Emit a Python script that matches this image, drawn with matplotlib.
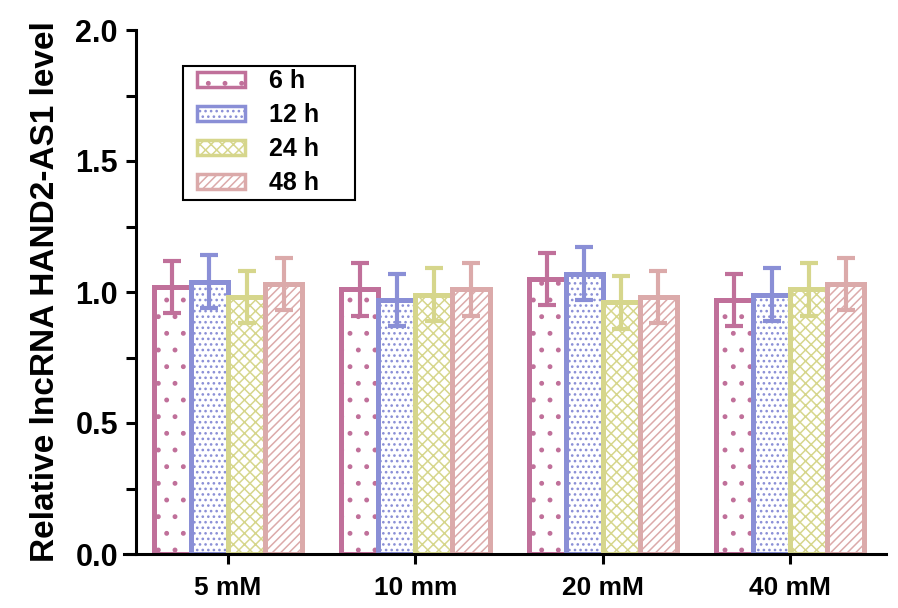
import numpy as np
import matplotlib.pyplot as plt
from matplotlib.patches import Patch, Rectangle

plt.rcParams['font.family'] = ['Liberation Sans', 'DejaVu Sans']
plt.rcParams['font.weight'] = 'bold'
plt.rcParams['hatch.linewidth'] = 1.1

# data
groups = ['5 mM', '10 mm', '20 mM', '40 mM']
series = ['6 h', '12 h', '24 h', '48 h']
means = [
    [1.02, 1.01, 1.05, 0.97],   # 6 h
    [1.04, 0.97, 1.07, 0.99],   # 12 h
    [0.98, 0.99, 0.96, 1.01],   # 24 h
    [1.03, 1.01, 0.98, 1.03],   # 48 h
]
errs = [
    [0.10, 0.10, 0.10, 0.10],
    [0.10, 0.10, 0.10, 0.10],
    [0.10, 0.10, 0.10, 0.10],
    [0.10, 0.10, 0.10, 0.10],
]

colors = ['#C0709A', '#8A8FD6', '#D6D68C', '#DBAAAA']
hatches = ['.', '...', 'xxx', '////']

fig = plt.figure(figsize=(8.98, 6.08), dpi=100)
ax = fig.add_axes([124 / 898, 1 - 554 / 608, 762 / 898, 524 / 608])

x = np.arange(len(groups))
w = 0.198
for i in range(len(series)):
    pos = x + (i - 1.5) * w
    plt.rcParams['hatch.color'] = colors[i]
    ax.bar(pos, means[i], w, color='white', edgecolor=colors[i],
           linewidth=3.6, hatch=hatches[i], zorder=2)
    ax.errorbar(pos, means[i], yerr=errs[i], fmt='none', ecolor=colors[i],
                elinewidth=3.0, capsize=6.5, capthick=3.0, zorder=3)

ax.set_xlim(-0.555, 3.512)
ax.set_ylim(0, 2.0)
ax.set_yticks([0, 0.5, 1.0, 1.5, 2.0])
ax.set_yticklabels(['0.0', '0.5', '1.0', '1.5', '2.0'])
ax.set_yticks(np.arange(0, 2.01, 0.25), minor=True)
ax.set_xticks(x)
ax.set_xticklabels(groups, fontsize=19, fontweight='bold')
ax.tick_params(axis='y', labelsize=22, width=2.2, length=7, pad=6)
ax.tick_params(axis='y', which='minor', width=2.2, length=7)
ax.tick_params(axis='x', width=2.2, length=7, pad=9)
for lbl in ax.get_yticklabels():
    lbl.set_fontweight('bold')

ax.spines['top'].set_visible(False)
ax.spines['right'].set_visible(False)
ax.spines['left'].set_position(('axes', 12 / 762))
ax.spines['left'].set_linewidth(2.2)
ax.spines['bottom'].set_linewidth(2.2)

ax.set_ylabel('Relative lncRNA HAND2-AS1 level', fontsize=24,
              fontweight='bold', labelpad=10)

# legend entries without frame, box drawn separately (GraphPad style)
handles = []
for i in range(len(series)):
    plt.rcParams['hatch.color'] = colors[i]
    handles.append(Patch(facecolor='white', edgecolor=colors[i],
                         linewidth=2.5, hatch=hatches[i], label=series[i]))
leg = ax.legend(handles=handles, loc='upper left',
                bbox_to_anchor=(0.0958, 0.9256), borderaxespad=0,
                frameon=False, prop={'size': 18, 'weight': 'bold'},
                handlelength=1.92, handleheight=0.55, handletextpad=0.96,
                labelspacing=0.4, borderpad=0)
ax.add_patch(Rectangle((0.0774, 0.6756), 0.2257, 0.2557,
                       transform=ax.transAxes, fill=False,
                       edgecolor='black', linewidth=1.5, zorder=5))

fig.savefig('out.png', dpi=100)
